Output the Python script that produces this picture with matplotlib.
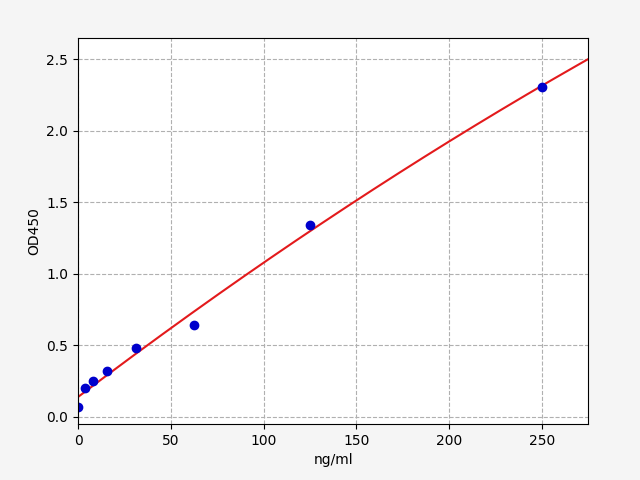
import numpy as np
import matplotlib as mpl
import matplotlib.pyplot as plt
mpl.use('agg')

conc = [0, 3.9, 7.8, 15.6, 31.25, 62.5, 125, 250]
od450 = [0.07, 0.20, 0.25, 0.32, 0.48, 0.64, 1.34, 2.31]

# quadratic fit for the standard curve
coef = np.polyfit(conc, od450, 2)
xfit = np.linspace(0, 275, 200)
yfit = np.polyval(coef, xfit)

fig = plt.figure(figsize=(6.4, 4.8), dpi=100, facecolor='#f5f5f5')
ax = fig.add_axes([0.122, 0.117, 0.797, 0.804])
ax.plot(xfit, yfit, color='#e31a1c', linewidth=1.5)
ax.plot(conc, od450, 'o', color='#0000cc', markersize=6)
ax.set_xlim(0, 275)
ax.set_ylim(-0.05, 2.65)
ax.set_xticks([0, 50, 100, 150, 200, 250])
ax.set_yticks([0, 0.5, 1.0, 1.5, 2.0, 2.5])
ax.grid(True, linestyle='--', color='#b0b0b0', linewidth=0.8)
ax.set_xlabel('ng/ml')
ax.set_ylabel('OD450')

fig.savefig('out.png', facecolor=fig.get_facecolor())
